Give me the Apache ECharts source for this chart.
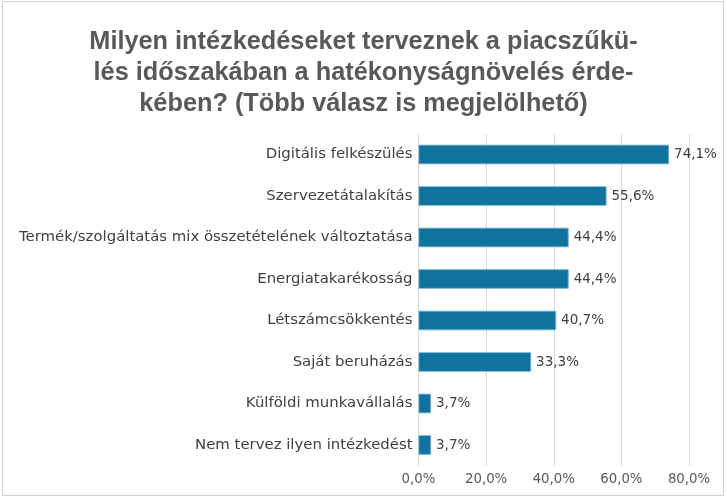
<!DOCTYPE html>
<html><head><meta charset="utf-8">
<script src="https://cdn.jsdelivr.net/npm/echarts@6/dist/echarts.min.js"></script>
<style>html,body{margin:0;padding:0;background:#fff}#c{width:727px;height:498px}</style>
</head><body><div id="c"></div>
<script>
const titleText = "Milyen intézkedéseket terveznek a piacszűkü-\nlés időszakában a hatékonyságnövelés érde-\nkében? (Több válasz is megjelölhető)";
const categories = ["Digitális felkészülés","Szervezetátalakítás","Termék/szolgáltatás mix összetételének változtatása","Energiatakarékosság","Létszámcsökkentés","Saját beruházás","Külföldi munkavállalás","Nem tervez ilyen intézkedést"];
const values = [74.1, 55.6, 44.4, 44.4, 40.7, 33.3, 3.7, 3.7];
const axisMin = 0, axisMax = 80, axisStep = 20;

const fmt = v => v.toFixed(1).replace('.', ',') + '%';
const chart = echarts.init(document.getElementById('c'), null, {renderer:'canvas'});
chart.setOption({
  animation:false,
  backgroundColor:'#fff',
  graphic:[{type:'rect',shape:{x:2.5,y:1.5,width:721,height:494},style:{fill:'none',stroke:'#d0d0d0',lineWidth:1}}],
  title:{text:titleText,left:'center',top:22,textStyle:{fontFamily:'Liberation Sans',fontWeight:'bold',fontSize:25.3,color:'#595959',lineHeight:31}},
  grid:{left:418.5,right:38,top:133.75,bottom:32.25,containLabel:false},
  xAxis:{type:'value',min:axisMin,max:axisMax,interval:axisStep,
    axisLine:{show:false},axisTick:{show:false},
    splitLine:{show:true,lineStyle:{color:'#d9d9d9',width:1}},
    axisLabel:{formatter:v=>fmt(v),color:'#595959',fontFamily:'DejaVu Sans',fontSize:13.3,margin:7}},
  yAxis:{type:'category',data:categories,inverse:true,
    axisLine:{show:false},axisTick:{show:false},
    axisLabel:{color:'#404040',fontFamily:'DejaVu Sans',fontSize:14.9,margin:6}},
  series:[{type:'bar',data:values,barWidth:19.5,
    itemStyle:{color:'#10739e',borderColor:'#6aaed0',borderWidth:0.8},
    label:{show:true,position:'right',distance:5,formatter:p=>fmt(p.value),color:'#404040',fontFamily:'DejaVu Sans',fontSize:13.5}}]
});
</script></body></html>
